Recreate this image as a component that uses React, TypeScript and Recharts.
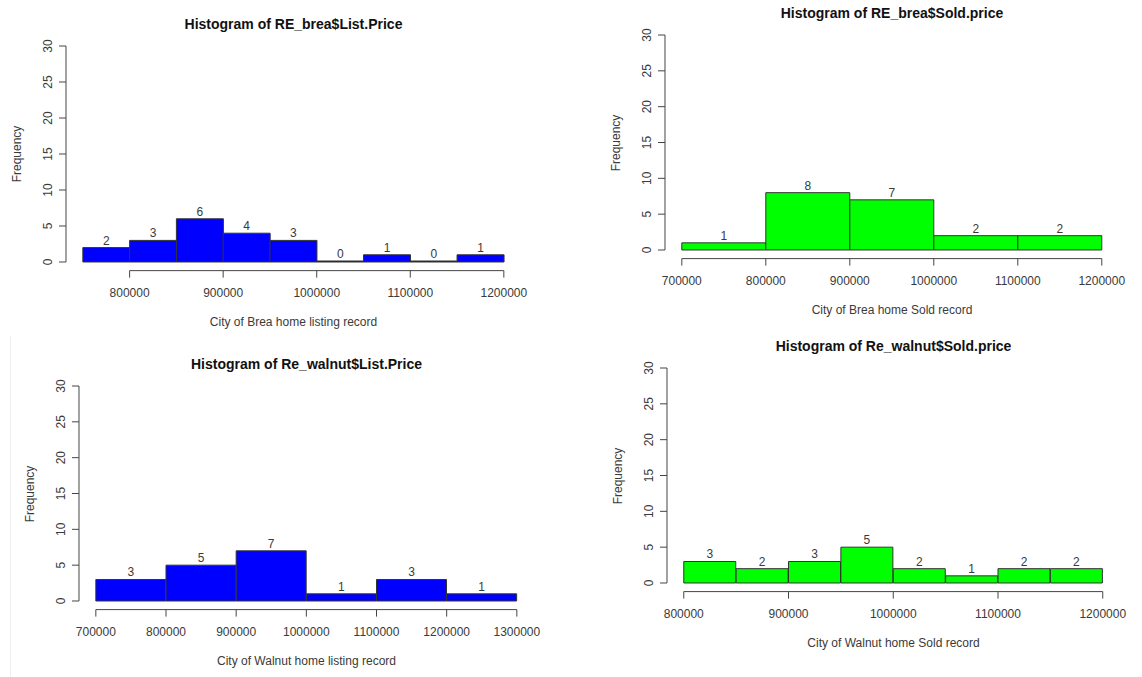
import { BarChart, Bar, XAxis, YAxis, LabelList } from 'recharts'

const FONT = '"Liberation Sans", Arial, Helvetica, sans-serif'
const TEXT = '#3a3a3a'
const LINE = '#444'

// frequency axis, same for all four panels
const freqTicks = [0, 5, 10, 15, 20, 25, 30]

// Brea - list price (50k bins)
const breaListBins = [750000, 800000, 850000, 900000, 950000, 1000000, 1050000, 1100000, 1150000]
const breaListCounts = [2, 3, 6, 4, 3, 0, 1, 0, 1]
const breaListTicks = [800000, 900000, 1000000, 1100000, 1200000]

// Brea - sold price (100k bins)
const breaSoldBins = [700000, 800000, 900000, 1000000, 1100000]
const breaSoldCounts = [1, 8, 7, 2, 2]
const breaSoldTicks = [700000, 800000, 900000, 1000000, 1100000, 1200000]

// Walnut - list price (100k bins)
const walnutListBins = [700000, 800000, 900000, 1000000, 1100000, 1200000]
const walnutListCounts = [3, 5, 7, 1, 3, 1]
const walnutListTicks = [700000, 800000, 900000, 1000000, 1100000, 1200000, 1300000]

// Walnut - sold price (50k bins)
const walnutSoldBins = [800000, 850000, 900000, 950000, 1000000, 1050000, 1100000, 1150000]
const walnutSoldCounts = [3, 2, 3, 5, 2, 1, 2, 2]
const walnutSoldTicks = [800000, 900000, 1000000, 1100000, 1200000]

interface Box {
  left: number
  top: number
  right: number
  bottom: number
}

interface HistProps {
  title: string
  xLabel: string
  bins: number[]
  counts: number[]
  binWidth: number
  ticks: number[]
  color: string
  box: Box // area covered by the bars, page pixels
}

const Y_AXIS_W = 50
const TOP_PAD = 12
const RIGHT_PAD = 40
const X_AXIS_H = 70

const centered: React.CSSProperties = {
  position: 'absolute',
  transform: 'translate(-50%, -50%)',
  whiteSpace: 'nowrap',
  fontFamily: FONT,
  lineHeight: 1,
}

function Histogram({ title, xLabel, bins, counts, binWidth, ticks, color, box }: HistProps) {
  const barsW = box.right - box.left
  const plotH = box.bottom - box.top
  // R keeps the axes 4% away from the data region
  const gapX = barsW * 0.04
  const gapY = plotH * 0.04
  const xMin = bins[0]
  const binPx = barsW / bins.length
  const pxPerUnit = binPx / binWidth
  const data = bins.map((b, i) => ({ bin: b, count: counts[i] }))
  const cx = (box.left + box.right) / 2
  const plotLeft = box.left - gapX

  // the R style value axis is drawn once, from the first bin's band position
  const renderXTick = (props: any) => {
    const { x, y, index } = props
    if (index !== 0) return <g />
    const x0 = x - binPx / 2
    const ay = y + gapY
    const px = (v: number) => x0 + (v - xMin) * pxPerUnit
    return (
      <g>
        <line x1={px(ticks[0])} y1={ay} x2={px(ticks[ticks.length - 1])} y2={ay} stroke={LINE} />
        {ticks.map((t) => (
          <g key={t}>
            <line x1={px(t)} y1={ay} x2={px(t)} y2={ay + 7} stroke={LINE} />
            <text
              x={px(t)}
              y={ay + 22.5}
              textAnchor="middle"
              dominantBaseline="central"
              fontSize={12}
              fill={TEXT}
              fontFamily={FONT}
            >
              {String(t)}
            </text>
          </g>
        ))}
      </g>
    )
  }

  return (
    <>
      <div style={{ ...centered, left: cx, top: box.top - 22, fontSize: 14, fontWeight: 'bold', color: '#111' }}>
        {title}
      </div>
      <div style={{ ...centered, left: cx, top: box.bottom + 60, fontSize: 12, color: TEXT }}>{xLabel}</div>
      <div
        style={{
          ...centered,
          left: plotLeft - 49,
          top: (box.top + box.bottom) / 2,
          fontSize: 12,
          color: TEXT,
          transform: 'translate(-50%, -50%) rotate(-90deg)',
        }}
      >
        Frequency
      </div>
      <div style={{ position: 'absolute', left: plotLeft - Y_AXIS_W, top: box.top - TOP_PAD }}>
        <BarChart
          width={Y_AXIS_W + barsW + 2 * gapX + RIGHT_PAD}
          height={TOP_PAD + plotH + X_AXIS_H}
          data={data}
          margin={{ top: TOP_PAD, right: RIGHT_PAD, left: 0, bottom: 0 }}
          barCategoryGap={0}
          barGap={0}
        >
          <XAxis
            dataKey="bin"
            type="category"
            padding={{ left: gapX, right: gapX }}
            interval={0}
            axisLine={{ stroke: 'none' }}
            tickSize={0}
            tickMargin={0}
            tick={renderXTick}
            height={X_AXIS_H}
          />
          <YAxis
            type="number"
            domain={[0, 30]}
            ticks={freqTicks}
            interval={0}
            stroke={LINE}
            axisLine={{ stroke: LINE }}
            tickLine={{ stroke: LINE }}
            tickSize={7}
            tickMargin={11.5}
            tick={{ angle: -90, textAnchor: 'middle', fontSize: 12, fill: TEXT, fontFamily: FONT }}
            width={Y_AXIS_W}
          />
          <Bar
            dataKey="count"
            fill={color}
            stroke="#333"
            strokeWidth={1}
            minPointSize={1}
            isAnimationActive={false}
          >
            <LabelList dataKey="count" position="top" offset={3} fill={TEXT} fontSize={12} fontFamily={FONT} />
          </Bar>
        </BarChart>
      </div>
    </>
  )
}

export default function App() {
  return (
    <div
      style={{
        position: 'absolute',
        left: 0,
        top: 0,
        width: 1142,
        height: 677,
        background: '#fff',
        overflow: 'hidden',
        fontFamily: FONT,
      }}
    >
      <div style={{ position: 'absolute', left: 10, top: 336, width: 1, height: 341, background: '#eee' }} />
      <Histogram
        title="Histogram of RE_brea$List.Price"
        xLabel="City of Brea home listing record"
        bins={breaListBins}
        counts={breaListCounts}
        binWidth={50000}
        ticks={breaListTicks}
        color="#0000ff"
        box={{ left: 83, top: 46, right: 504, bottom: 262 }}
      />
      <Histogram
        title="Histogram of RE_brea$Sold.price"
        xLabel="City of Brea home Sold record"
        bins={breaSoldBins}
        counts={breaSoldCounts}
        binWidth={100000}
        ticks={breaSoldTicks}
        color="#00ff00"
        box={{ left: 682, top: 35, right: 1102, bottom: 250 }}
      />
      <Histogram
        title="Histogram of Re_walnut$List.Price"
        xLabel="City of Walnut home listing record"
        bins={walnutListBins}
        counts={walnutListCounts}
        binWidth={100000}
        ticks={walnutListTicks}
        color="#0000ff"
        box={{ left: 96, top: 386, right: 517, bottom: 601 }}
      />
      <Histogram
        title="Histogram of Re_walnut$Sold.price"
        xLabel="City of Walnut home Sold record"
        bins={walnutSoldBins}
        counts={walnutSoldCounts}
        binWidth={50000}
        ticks={walnutSoldTicks}
        color="#00ff00"
        box={{ left: 684, top: 368, right: 1103, bottom: 583 }}
      />
    </div>
  )
}
